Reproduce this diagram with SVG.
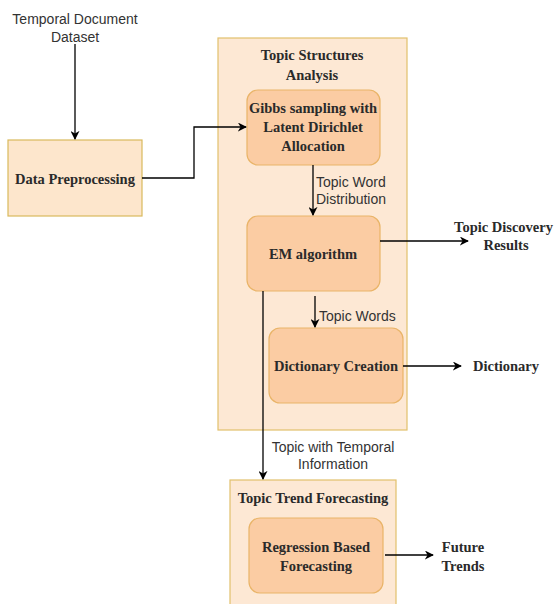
<svg xmlns="http://www.w3.org/2000/svg" width="555" height="604" viewBox="0 0 555 604">
<defs>
<marker id="ah" viewBox="0 0 10 10" refX="9" refY="5" markerWidth="9" markerHeight="9" markerUnits="userSpaceOnUse" orient="auto">
<path d="M0,0 L10,5 L0,10 L3,5 Z" fill="#000"/>
</marker>
<style>
.cont{fill:#fde8d4;stroke:#e2c06c;stroke-width:1.2}
.box{fill:#fbcca3;stroke:#e9b468;stroke-width:1.2}
.plain{fill:#fde6cc;stroke:#d9b95c;stroke-width:1.2}
.t{font-family:"Liberation Serif",serif;font-weight:bold;font-size:14.5px;fill:#2a2a2a;text-anchor:middle}
.s{font-family:"Liberation Sans",Arial,sans-serif;font-size:14px;fill:#333}
.c{text-anchor:middle}
.ln{fill:none;stroke:#000;stroke-width:1.3}
</style>
</defs>
<rect width="555" height="604" fill="#fff"/>
<g id="input">
<text class="s c" x="75" y="24">Temporal Document</text>
<text class="s c" x="75" y="42">Dataset</text>
</g>
<g id="preprocessing">
<rect class="plain" x="8" y="140" width="134" height="76"/>
<text class="t" x="75" y="184">Data Preprocessing</text>
</g>
<g id="topic-structures">
<rect class="cont" x="218" y="38" width="189" height="392"/>
<text class="t" x="312" y="60">Topic Structures</text>
<text class="t" x="312" y="80">Analysis</text>
</g>
<g id="gibbs">
<rect class="box" x="247" y="90" width="133" height="75" rx="11"/>
<text class="t" x="313" y="113">Gibbs sampling with</text>
<text class="t" x="313" y="132">Latent Dirichlet</text>
<text class="t" x="313" y="151">Allocation</text>
</g>
<g id="em">
<rect class="box" x="247" y="216" width="133" height="75" rx="11"/>
<text class="t" x="313" y="259">EM algorithm</text>
</g>
<g id="dictionary-creation">
<rect class="box" x="269" y="328" width="134" height="75" rx="11"/>
<text class="t" x="336" y="371">Dictionary Creation</text>
</g>
<g id="trend">
<rect class="cont" x="230" y="480" width="166" height="130"/>
<text class="t" x="313" y="503">Topic Trend Forecasting</text>
</g>
<g id="regression">
<rect class="box" x="249" y="518" width="134" height="75" rx="11"/>
<text class="t" x="316" y="552">Regression Based</text>
<text class="t" x="316" y="571">Forecasting</text>
</g>
<g id="discovery">
<text class="t" x="553" y="232" style="text-anchor:end">Topic Discovery</text>
<text class="t" x="506" y="250">Results</text>
</g>
<g id="dictionary">
<text class="t" x="506" y="371">Dictionary</text>
</g>
<g id="future">
<text class="t" x="463" y="552">Future</text>
<text class="t" x="463" y="571">Trends</text>
</g>
<g id="connectors">
<path class="ln" d="M75,44 V139" marker-end="url(#ah)"/>
<path class="ln" d="M142,178 H194 V127 H246" marker-end="url(#ah)"/>
<path class="ln" d="M313,165 V215" marker-end="url(#ah)"/>
<text class="s" x="316" y="187">Topic Word</text>
<text class="s" x="316" y="204">Distribution</text>
<path class="ln" d="M380,241 H468" marker-end="url(#ah)"/>
<path class="ln" d="M315,296 V327" marker-end="url(#ah)"/>
<text class="s" x="319" y="321">Topic Words</text>
<path class="ln" d="M403,366 H461" marker-end="url(#ah)"/>
<path class="ln" d="M263,291 V479" marker-end="url(#ah)"/>
<text class="s c" x="333" y="452">Topic with Temporal</text>
<text class="s c" x="333" y="469">Information</text>
<path class="ln" d="M385,555 H433" marker-end="url(#ah)"/>
</g>
</svg>
